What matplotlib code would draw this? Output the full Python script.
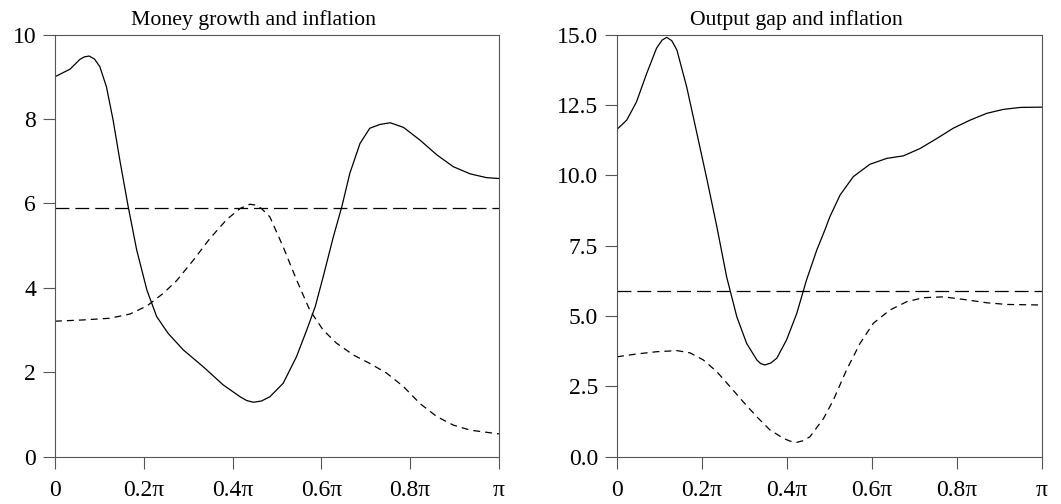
import numpy as np
import matplotlib
matplotlib.use("Agg")
import matplotlib.pyplot as plt

# frequency as a fraction of pi
money_x = [0, .034, .056, .066, .077, .089, .101, .116, .131, .146, .165, .184,
           .207, .229, .255, .289, .334, .379, .417, .432, .447, .465, .484,
           .514, .544, .567, .586, .604, .627, .646, .664, .687, .709, .732,
           .755, .785, .822, .860, .897, .935, .972, 1.0]
money_y = [9.0, 9.18, 9.41, 9.47, 9.49, 9.42, 9.24, 8.76, 7.97, 7.03, 5.92, 4.90,
           3.95, 3.32, 2.92, 2.53, 2.13, 1.70, 1.42, 1.33, 1.29, 1.32, 1.42,
           1.74, 2.37, 3.0, 3.55, 4.26, 5.21, 5.92, 6.71, 7.42, 7.78, 7.87,
           7.91, 7.80, 7.50, 7.15, 6.87, 6.70, 6.61, 6.59]

infl1_x = [0, .064, .124, .169, .207, .244, .274, .312, .349, .387, .417, .439,
           .452, .465, .484, .514, .544, .574, .604, .634, .672, .709, .747,
           .785, .822, .860, .897, .935, 1.0]
infl1_y = [3.21, 3.24, 3.28, 3.38, 3.57, 3.87, 4.17, 4.66, 5.17, 5.62, 5.88, 5.98,
           5.96, 5.88, 5.68, 4.97, 4.19, 3.47, 3.0, 2.69, 2.41, 2.21, 1.98,
           1.66, 1.26, 0.95, 0.75, 0.63, 0.54]

gap_x = [0, .023, .046, .070, .093, .106, .117, .129, .141, .164, .188, .212,
         .235, .258, .282, .305, .329, .338, .348, .362, .376, .399, .423,
         .446, .470, .489, .501, .525, .556, .595, .635, .674, .713, .753,
         .791, .831, .870, .909, .949, 1.0]
gap_y = [11.63, 11.96, 12.61, 13.62, 14.51, 14.80, 14.90, 14.78, 14.45, 13.14,
         11.49, 9.83, 8.17, 6.39, 4.97, 4.03, 3.44, 3.31, 3.26, 3.33, 3.50,
         4.15, 5.09, 6.28, 7.34, 8.05, 8.53, 9.30, 9.95, 10.39, 10.60, 10.69,
         10.95, 11.31, 11.67, 11.96, 12.20, 12.34, 12.41, 12.42]

infl2_x = [0, .046, .093, .141, .172, .203, .235, .266, .297, .329, .360, .392,
           .408, .423, .438, .454, .486, .509, .540, .572, .603, .642, .682,
           .721, .768, .815, .870, .917, 1.0]
infl2_y = [3.55, 3.65, 3.73, 3.77, 3.69, 3.44, 3.02, 2.49, 1.95, 1.42, 0.95, 0.65,
           0.55, 0.51, 0.57, 0.71, 1.36, 2.01, 3.08, 4.03, 4.74, 5.21, 5.51,
           5.65, 5.68, 5.59, 5.47, 5.41, 5.39]

target1 = 5.88
target2 = 5.89

xtick_frac = [0, 0.2, 0.4, 0.6, 0.8, 1.0]
xtick_labels = ["0", "0.2\u03c0", "0.4\u03c0", "0.6\u03c0", "0.8\u03c0", "\u03c0"]
yticks1 = [0, 2, 4, 6, 8, 10]
yticks2 = [0.0, 2.5, 5.0, 7.5, 10.0, 12.5, 15.0]

plt.rcParams["font.family"] = ["Liberation Serif", "DejaVu Serif"]
plt.rcParams["lines.scale_dashes"] = False

long_dash = (0, (10, 4.3))
short_dash = (0, (5, 3.6))

fig = plt.figure(figsize=(10.61, 5.04), dpi=100)
ax1 = fig.add_axes([0.0518, 0.0938, 0.4185, 0.8377])
ax2 = fig.add_axes([0.5815, 0.0938, 0.4006, 0.8377])


def style_axes(ax, yticks, ylabels, ylim, title, title_x):
    ax.set_xlim(0, np.pi)
    ax.set_ylim(*ylim)
    ax.set_xticks(np.pi * np.array(xtick_frac))
    ax.set_xticklabels(xtick_labels)
    ax.set_yticks(yticks)
    ax.set_yticklabels(ylabels)
    ax.tick_params(direction="out", length=8.5, width=0.8, color="#555555",
                   labelsize=17, labelcolor="black")
    ax.tick_params(axis="y", pad=5)
    ax.tick_params(axis="x", pad=8)
    for s in ax.spines.values():
        s.set_color("#555555")
        s.set_linewidth(0.8)
    t = ax.set_title(title, fontsize=15.7, pad=7)
    t.set_x(title_x)


pi = np.pi
ax1.plot(pi * np.array(money_x), money_y, color="black", lw=0.9)
ax1.plot(pi * np.array(infl1_x), infl1_y, color="black", lw=0.9, linestyle=short_dash)
ax1.axhline(target1, color="black", lw=0.9, linestyle=long_dash)
style_axes(ax1, yticks1, [str(v) for v in yticks1], (0, 10),
           "Money growth and inflation", 0.447)

ax2.plot(pi * np.array(gap_x), gap_y, color="black", lw=0.9)
ax2.plot(pi * np.array(infl2_x), infl2_y, color="black", lw=0.9, linestyle=short_dash)
ax2.axhline(target2, color="black", lw=0.9, linestyle=long_dash)
style_axes(ax2, yticks2, ["%.1f" % v for v in yticks2], (0, 15),
           "Output gap and inflation", 0.423)

fig.savefig("out.png", dpi=100)
